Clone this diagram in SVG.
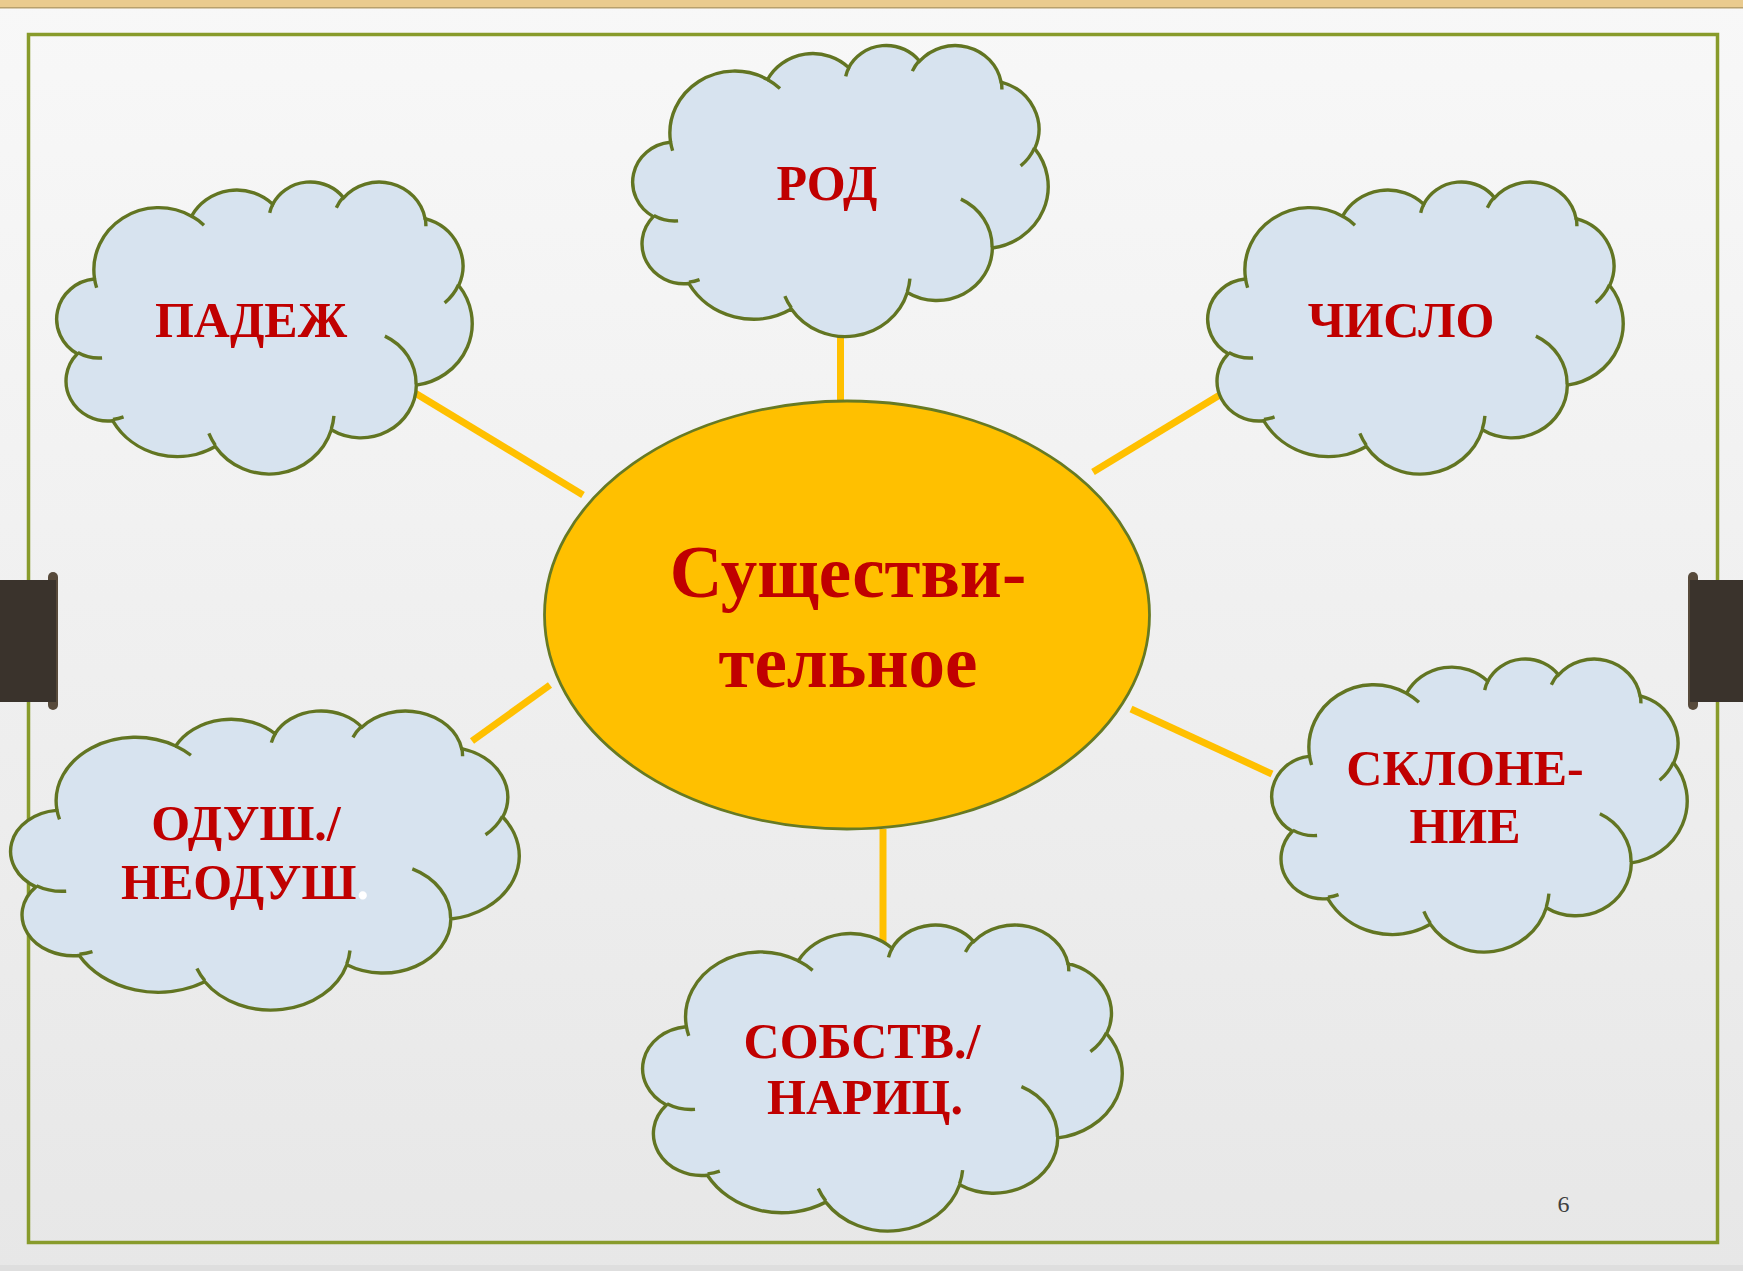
<svg xmlns="http://www.w3.org/2000/svg" xmlns:xlink="http://www.w3.org/1999/xlink" width="1743" height="1271" viewBox="0 0 1743 1271">
<style>
.cloud{fill:#d7e3ef;stroke:#627522;stroke-width:3.4;vector-effect:non-scaling-stroke}
.cloudline{fill:none;stroke:#627522;stroke-width:3.4;vector-effect:non-scaling-stroke}
.lbl{font-family:"Liberation Serif","Times New Roman",serif;font-weight:bold;font-size:50px;fill:#c00000;text-anchor:middle}
.big{font-size:73px}
.conn{stroke:#ffc000;stroke-width:7;fill:none;stroke-linecap:butt}
.tab{fill:#3a332c}
.rod{fill:#574a3b}
</style>
<defs>
<linearGradient id="bg" x1="0" y1="0" x2="0" y2="1">
<stop offset="0" stop-color="#f8f8f8"/>
<stop offset="1" stop-color="#e7e7e7"/>
</linearGradient>
<g id="cloudShape">
<path class="cloud" d="M39.00 143.70 A67.53 91.90 0 0 1 140.05 52.02 A53.33 72.67 0 0 1 224.56 34.33 A43.65 59.45 0 0 1 298.33 24.82 A48.57 65.95 0 0 1 383.19 55.77 A53.33 72.73 0 0 1 418.20 154.61 A67.75 92.20 0 0 1 374.05 302.03 A57.85 78.67 0 0 1 285.56 368.13 A67.52 92.15 0 0 1 164.81 392.65 A77.20 105.43 0 0 1 58.06 354.72 A43.60 59.18 0 0 1 21.14 255.52 A43.45 59.45 0 0 1 38.63 145.08 Z"/>
<path class="cloudline" d="M46.93 261.77 A43.45 59.45 0 0 1 21.60 253.80 M69.28 348.99 A43.60 59.18 0 0 1 58.20 352.81 M164.78 390.90 A67.52 92.15 0 0 1 158.09 373.48 M288.27 347.51 A67.52 92.15 0 0 1 285.60 366.60 M341.29 229.54 A57.85 78.67 0 0 1 373.81 300.90 M417.98 153.54 A53.33 72.73 0 0 1 403.51 180.28 M383.24 54.26 A48.57 65.95 0 0 1 384.00 66.90 M290.78 39.52 A48.57 65.95 0 0 1 298.19 23.41 M221.41 47.20 A43.65 59.45 0 0 1 225.00 33.30 M140.00 51.92 A67.53 91.90 0 0 1 153.00 65.41 M41.27 157.89 A67.53 91.90 0 0 1 39.00 143.71"/>
</g>
</defs>

<g id="background">
<rect x="0" y="0" width="1743" height="1271" fill="url(#bg)"/>
<rect x="0" y="1265" width="1743" height="6" fill="#dedede"/>
<rect x="0" y="0" width="1743" height="7" fill="#eacb8e"/>
<rect x="0" y="7" width="1743" height="1.5" fill="#b8a06c"/>
<rect x="28.5" y="34.5" width="1689" height="1208" fill="none" stroke="#889b2b" stroke-width="3.5"/>
</g>

<g id="tabs">
<rect class="rod" x="48" y="572" width="10" height="138" rx="5"/>
<rect class="tab" x="0" y="580" width="56" height="122"/>
<rect class="rod" x="1688" y="572" width="10" height="138" rx="5"/>
<rect class="tab" x="1690" y="580" width="53" height="122"/>
</g>

<g id="connectors">
<line class="conn" x1="840.5" y1="336" x2="840.5" y2="402"/>
<line class="conn" x1="415" y1="393" x2="583" y2="495"/>
<line class="conn" x1="1223" y1="393" x2="1093" y2="472"/>
<line class="conn" x1="472" y1="741" x2="550" y2="685"/>
<line class="conn" x1="1131" y1="709" x2="1272" y2="774"/>
<line class="conn" x1="883" y1="829" x2="883" y2="949"/>
</g>

<g id="node-center">
<ellipse cx="847" cy="615" rx="302.5" ry="214" fill="#ffc000" stroke="#677a23" stroke-width="2.8"/>
<text class="lbl big" x="848" y="597">Существи-</text>
<text class="lbl big" x="848" y="687">тельное</text>
</g>

<g id="node-rod">
<use xlink:href="#cloudShape" transform="translate(633,44.5) scale(0.96065,0.67361)"/>
<text class="lbl" x="827" y="200">РОД</text>
</g>

<g id="node-padezh">
<use xlink:href="#cloudShape" transform="translate(57,181) scale(0.96065,0.67593)"/>
<text class="lbl" x="251" y="337">ПАДЕЖ</text>
</g>

<g id="node-chislo">
<use xlink:href="#cloudShape" transform="translate(1208,181) scale(0.96065,0.67593)"/>
<text class="lbl" x="1401" y="337">ЧИСЛО</text>
</g>

<g id="node-sklonenie">
<use xlink:href="#cloudShape" transform="translate(1272,658) scale(0.96065,0.67824)"/>
<text class="lbl" x="1465" y="785">СКЛОНЕ-</text>
<text class="lbl" x="1465" y="843">НИЕ</text>
</g>

<g id="node-sobstv">
<use xlink:href="#cloudShape" transform="translate(643,924) scale(1.10880,0.70833)"/>
<text class="lbl" x="862" y="1058">СОБСТВ./</text>
<text class="lbl" x="865" y="1114">НАРИЦ.</text>
</g>

<g id="node-odush">
<use xlink:href="#cloudShape" transform="translate(11,710) scale(1.17593,0.69213)"/>
<text class="lbl" x="246" y="840">ОДУШ./</text>
<text class="lbl" x="245" y="899">НЕОДУШ<tspan fill="#ffffff">.</tspan></text>
</g>

<g id="page-number">
<text x="1563.5" y="1212" font-family="Liberation Serif, Times New Roman, serif" font-size="24" fill="#404040" text-anchor="middle">6</text>
</g>
</svg>
